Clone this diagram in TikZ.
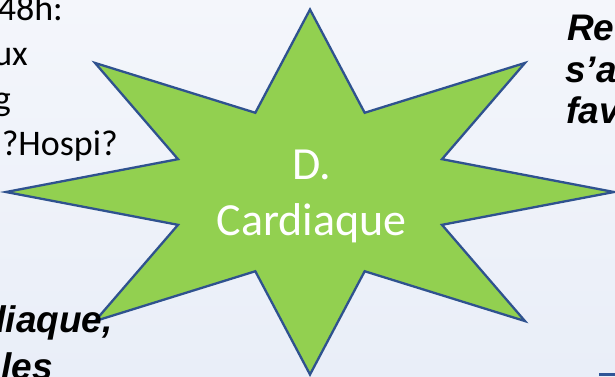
\documentclass[tikz,border=0pt]{standalone}
\usepackage{fontspec}
\usetikzlibrary{calc}
\setmainfont{Carlito}
\newfontfamily\arialfont{Liberation Sans}
\definecolor{bgtop}{HTML}{F4F6FB}
\definecolor{bgbot}{HTML}{E9EEF8}
\definecolor{stargreen}{HTML}{92D050}
\definecolor{starblue}{HTML}{2F528F}
\definecolor{barblue}{HTML}{2F5597}
\tikzset{
  startxt/.style={text=white, font=\fontsize{46}{56}\selectfont, align=center, inner sep=0pt},
  lefttxt/.style={text=black, font=\fontsize{36}{45}\selectfont, inner sep=0pt},
  boldtxt/.style={text=black, font=\arialfont\bfseries\itshape\fontsize{37}{42}\selectfont, inner sep=0pt},
  starshape/.style={fill=stargreen, draw=starblue, line width=2.3pt, line join=miter},
}
\begin{document}
\begin{tikzpicture}[x=1pt, y=-1pt]
  \useasboundingbox (0,0) rectangle (615,376);
  \clip (0,0) rectangle (615,376);
  \shade[top color=bgtop, bottom color=bgbot] (0,0) rectangle (615,376);
  % star geometry
  \coordinate (c) at (310,192);
  \foreach \k in {0,...,7}{
    \coordinate (o\k) at ($(c)+({304*cos(45*\k)},{182.5*sin(45*\k)})$);
    \coordinate (i\k) at ($(c)+({0.47*304*cos(45*\k+22.5)},{0.47*182.5*sin(45*\k+22.5)})$);
  }
  \draw[starshape] (o0) -- (i0) -- (o1) -- (i1) -- (o2) -- (i2) -- (o3) -- (i3)
    -- (o4) -- (i4) -- (o5) -- (i5) -- (o6) -- (i6) -- (o7) -- (i7) -- cycle;
  \node[startxt] (title) at (311.7,196) {D.\\Cardiaque};
  % left text
  \node[lefttxt, anchor=base east] (l1) at (63,20) {48h:};
  \node[lefttxt, anchor=base east] (l2) at (28,65) {ux};
  \node[lefttxt, anchor=base east] (l3) at (11,110) {g};
  \node[lefttxt, anchor=base east] (l4) at (118,155) {?Hospi?};
  % right text
  \node[boldtxt, anchor=base west] (r1) at (567,40) {Re};
  \node[boldtxt, anchor=base west] (r2) at (565,82) {s’a};
  \node[boldtxt, anchor=base west] (r3) at (566,123) {fav};
  % bottom left text
  \node[boldtxt, anchor=base east] (b1) at (113,332) {diaque,};
  \node[boldtxt, anchor=base east] (b2) at (53,379) {les};
  % bottom right bar
  \fill[barblue] (599,372.7) rectangle (615,376);
\end{tikzpicture}
\end{document}
